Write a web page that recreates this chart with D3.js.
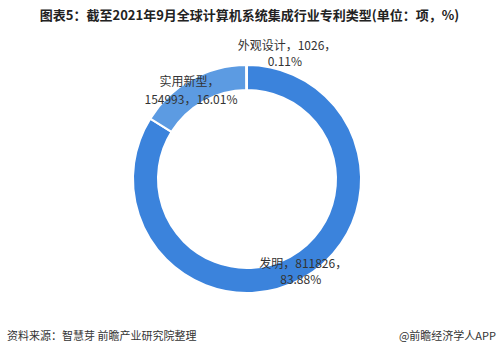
<!DOCTYPE html>
<html>
<head>
<meta charset="utf-8">
<script src="https://cdn.jsdelivr.net/npm/d3@7"></script>
<style>
  body { margin: 0; background: #fff; }
  text { font-family: "Noto Sans CJK SC", "Noto Sans", sans-serif; }
</style>
</head>
<body>
<svg id="chart" width="499" height="354"></svg>
<script>
// data
var categories = ["发明", "实用新型", "外观设计"];
var counts = [811826, 154993, 1026];
var shares = ["83.88%", "16.01%", "0.11%"];
var colors = ["#3b83dc", "#5c9be2", "#3b83dc"];

var width = 499, height = 354;
var cx = 247, cy = 179;
var outerR = 114, innerR = 89;

var svg = d3.select("#chart");

svg.append("text")
    .attr("x", width / 2).attr("y", 20)
    .attr("text-anchor", "middle")
    .attr("font-size", 13).attr("font-weight", "bold").attr("fill", "#222")
    .text("图表5：截至2021年9月全球计算机系统集成行业专利类型(单位：项，%)");

var data = categories.map(function(c, i) {
    return {name: c, value: counts[i], share: shares[i], color: colors[i]};
});

var pie = d3.pie().sort(null).value(function(d) { return d.value; });
var arc = d3.arc().innerRadius(innerR).outerRadius(outerR);
var arcs = pie(data);

var g = svg.append("g").attr("transform", "translate(" + cx + "," + cy + ")");

g.selectAll("path.slice")
    .data(arcs)
    .enter().append("path")
    .attr("class", "slice")
    .attr("d", arc)
    .attr("fill", function(d) { return d.data.color; })
    .attr("stroke", "#fff")
    .attr("stroke-width", 2);

// two-line labels, placed relative to each slice centroid
var labelLines = [
    [categories[0] + "，" + counts[0] + "，", shares[0]],
    [categories[1] + "，", counts[1] + "，" + shares[1]],
    [categories[2] + "，" + counts[2] + "，", shares[2]]
];
var offsets = [
    [[-37, 0], [-16, 16]],
    [[-38, -4], [-53, 14]],
    [[-9, -28], [21, -12]]
];

arcs.forEach(function(a, i) {
    var c = arc.centroid(a);
    labelLines[i].forEach(function(line, j) {
        g.append("text")
            .attr("x", c[0] + offsets[i][j][0])
            .attr("y", c[1] + offsets[i][j][1])
            .attr("font-size", 12).attr("fill", "#333")
            .text(line);
    });
});

svg.append("text")
    .attr("x", 7).attr("y", 340)
    .attr("font-size", 11).attr("fill", "#333")
    .text("资料来源：智慧芽 前瞻产业研究院整理");

svg.append("text")
    .attr("x", 496).attr("y", 340)
    .attr("text-anchor", "end")
    .attr("font-size", 11).attr("fill", "#333")
    .text("@前瞻经济学人APP");
</script>
</body>
</html>
